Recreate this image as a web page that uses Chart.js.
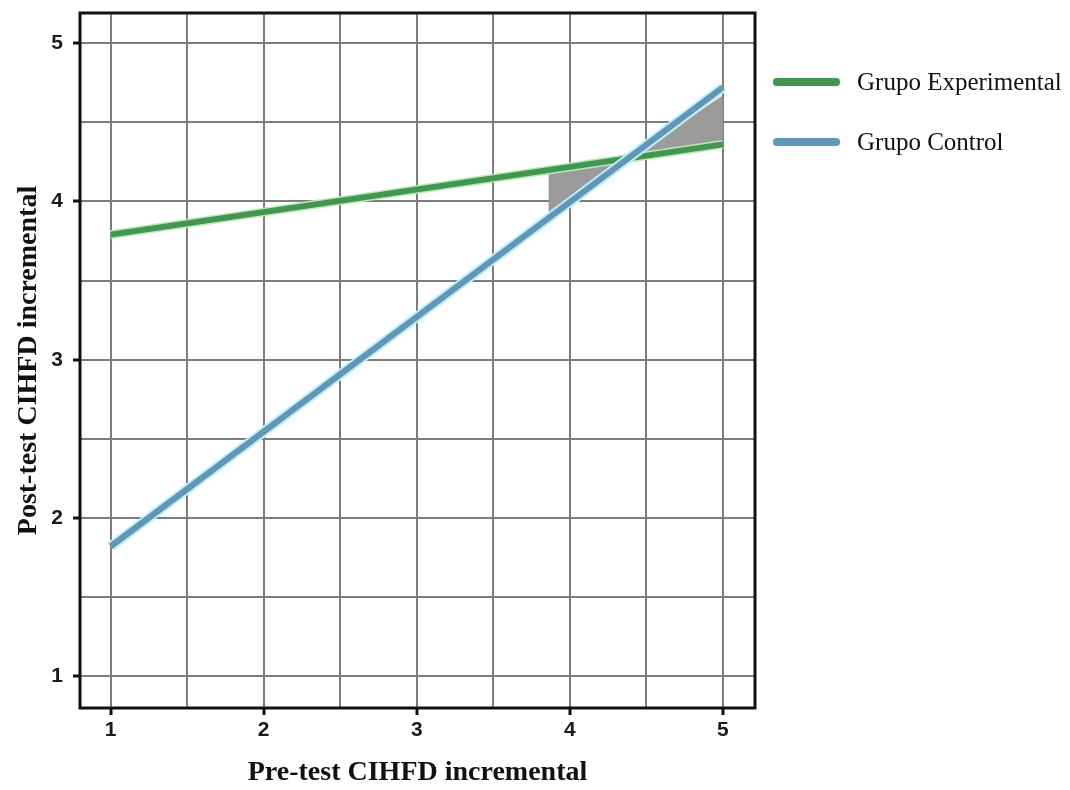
<!DOCTYPE html>
<html>
<head>
<meta charset="utf-8">
<script src="https://cdn.jsdelivr.net/npm/chart.js@4"></script>
<style>
    body { margin: 0; background: #fff; }
    #wrap { position: relative; width: 1070px; height: 790px; }
    .legend-item { position: absolute; left: 773px; height: 30px; display: flex; align-items: center; font-family: "Liberation Serif", serif; font-size: 25px; color: #111; white-space: nowrap; }
    .legend-swatch { width: 67px; height: 8px; border-radius: 4px; margin-right: 17px; }
</style>
</head>
<body>
<div id="wrap">
    <canvas id="chart" width="1070" height="790"></canvas>
    <div id="legend"></div>
</div>
<script>
const seriesNames = ['Grupo Experimental', 'Grupo Control'];
const xValues = [1, 5];
const experimental = [3.79, 4.36];
const control = [1.82, 4.72];
const shadeX = [3.86, 5];
const shadeExperimental = [4.19, 4.36];
const shadeControl = [3.92, 4.67];
const tickValues = [1, 1.5, 2, 2.5, 3, 3.5, 4, 4.5, 5];

const greenMain = '#469452';
const greenGlow = '#b3eeb0';
const blueMain = '#6196b6';
const blueGlow = '#bdeefa';

function points(xs, ys) {
    return xs.map((x, i) => ({ x: x, y: ys[i] }));
}

function lineSet(label, data, color, width) {
    return {
        label: label,
        data: data,
        borderColor: color,
        borderWidth: width,
        pointRadius: 0,
        fill: false,
        borderCapStyle: 'butt'
    };
}

const frame = {
    id: 'frame',
    afterDraw(chart) {
        const a = chart.chartArea;
        const ctx = chart.ctx;
        ctx.save();
        ctx.strokeStyle = '#111';
        ctx.lineWidth = 3;
        ctx.strokeRect(a.left, a.top, a.right - a.left, a.bottom - a.top);
        ctx.restore();
    }
};

function axisOptions(min, max, titleText, isY) {
    return {
        type: 'linear',
        min: min,
        max: max,
        afterBuildTicks: scale => {
            scale.ticks = tickValues.map(v => ({ value: v }));
        },
        afterFit: scale => {
            if (isY) {
                scale.width = 80;
                scale.paddingTop = 0;
                scale.paddingBottom = 0;
            } else {
                scale.height = 82;
                scale.paddingLeft = 0;
                scale.paddingRight = 0;
            }
        },
        border: { display: false },
        grid: {
            color: '#7d7d7d',
            lineWidth: 2,
            tickLength: 7,
            tickWidth: 3,
            tickColor: c => Number.isInteger(c.tick.value) ? '#111' : 'rgba(0,0,0,0)'
        },
        ticks: {
            autoSkip: false,
            padding: isY ? 10 : 3,
            color: '#1a1a1a',
            font: { family: 'Liberation Sans', weight: 'bold', size: 21 },
            callback: v => Number.isInteger(v) ? String(v) : ''
        },
        title: {
            display: true,
            text: titleText,
            color: '#111',
            padding: isY ? { top: 12, bottom: 0 } : { top: 0, bottom: 0 },
            font: { family: 'Liberation Serif', weight: 'bold', size: 28 }
        }
    };
}

new Chart(document.getElementById('chart').getContext('2d'), {
    type: 'line',
    data: {
        datasets: [
            lineSet(seriesNames[1], points(xValues, control), blueMain, 6),
            lineSet(seriesNames[1], points(xValues, control), blueGlow, 10),
            lineSet(seriesNames[0], points(xValues, experimental), greenMain, 6),
            lineSet(seriesNames[0], points(xValues, experimental), greenGlow, 9),
            {
                label: 'shade',
                data: points(shadeX, shadeExperimental),
                borderWidth: 0,
                pointRadius: 0,
                backgroundColor: '#9b9b9b',
                fill: { target: 5, above: '#9b9b9b', below: '#9b9b9b' }
            },
            {
                label: 'shade base',
                data: points(shadeX, shadeControl),
                borderWidth: 0,
                pointRadius: 0,
                fill: false
            }
        ]
    },
    options: {
        responsive: false,
        animation: false,
        layout: { padding: { top: 13, right: 315, left: 0, bottom: 0 } },
        plugins: {
            legend: { display: false },
            tooltip: { enabled: false }
        },
        scales: {
            x: axisOptions(0.8, 5.21, 'Pre-test CIHFD incremental', false),
            y: axisOptions(0.8, 5.19, 'Post-test CIHFD incremental', true)
        }
    },
    plugins: [frame]
});

const legend = document.getElementById('legend');
[[seriesNames[0], greenMain, greenGlow, 67], [seriesNames[1], blueMain, blueGlow, 127]].forEach(([name, color, glow, top]) => {
    const item = document.createElement('div');
    item.className = 'legend-item';
    item.style.top = top + 'px';
    const swatch = document.createElement('span');
    swatch.className = 'legend-swatch';
    swatch.style.background = color;
    swatch.style.boxShadow = '0 0 2px ' + glow;
    item.appendChild(swatch);
    item.appendChild(document.createTextNode(name));
    legend.appendChild(item);
});
</script>
</body>
</html>
